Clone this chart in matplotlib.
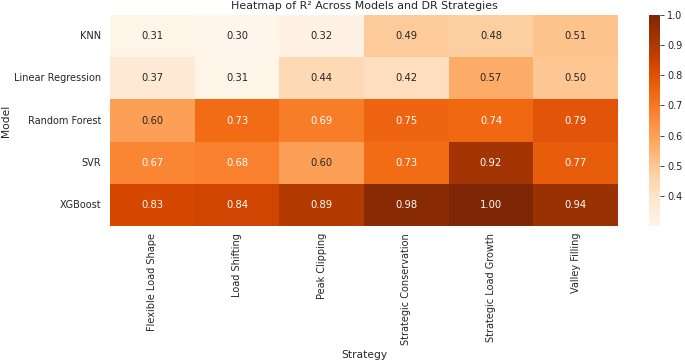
import numpy as np
import pandas as pd
import matplotlib
matplotlib.use("Agg")
import matplotlib.pyplot as plt
import seaborn as sns

models = ["KNN", "Linear Regression", "Random Forest", "SVR", "XGBoost"]
strategies = ["Flexible Load Shape", "Load Shifting", "Peak Clipping",
              "Strategic Conservation", "Strategic Load Growth", "Valley Filling"]
knn = [0.31, 0.30, 0.32, 0.49, 0.48, 0.51]
linreg = [0.37, 0.31, 0.44, 0.42, 0.57, 0.50]
rf = [0.60, 0.73, 0.69, 0.75, 0.74, 0.79]
svr = [0.67, 0.68, 0.60, 0.73, 0.92, 0.77]
xgb = [0.83, 0.84, 0.89, 0.98, 1.00, 0.94]
cbar_ticks = [0.4, 0.5, 0.6, 0.7, 0.8, 0.9, 1.0]

df = pd.DataFrame([knn, linreg, rf, svr, xgb], index=models, columns=strategies)
df.index.name = "Model"
df.columns.name = "Strategy"

sns.set_theme(style="white")
W, H = 685, 362
fig = plt.figure(figsize=(W / 100, H / 100), dpi=100)
ax = fig.add_axes([110 / W, 1 - 226 / H, 508 / W, 211 / H])
cax = fig.add_axes([649 / W, 1 - 226 / H, 11 / W, 211 / H])

sns.heatmap(df, annot=True, fmt=".2f", cmap="Oranges", ax=ax, cbar_ax=cax,
            annot_kws={"fontsize": 7.2})
ax.set_title("Heatmap of R² Across Models and DR Strategies", fontsize=7.9, pad=4)
ax.set_xlabel("Strategy", fontsize=7.7, labelpad=4)
ax.set_ylabel("Model", fontsize=7.7, labelpad=2)
ax.tick_params(axis="y", labelsize=7.0, length=0, pad=6.2)
ax.tick_params(axis="x", labelsize=7.0, length=0, pad=5)
cax.set_yticks(cbar_ticks)
cax.tick_params(labelsize=7.0, length=3, width=0.6, pad=2)

fig.savefig("out.png", dpi=100)
